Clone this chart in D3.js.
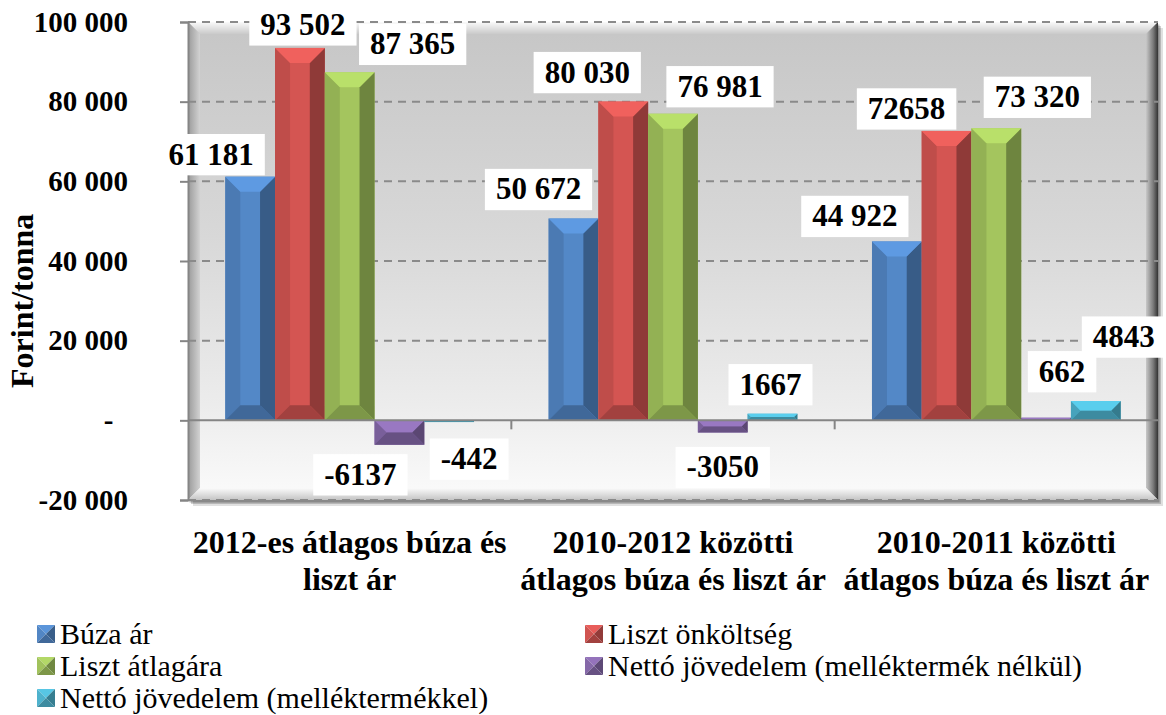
<!DOCTYPE html>
<html>
<head>
<meta charset="utf-8">
<script src="https://cdn.jsdelivr.net/npm/d3@7"></script>
<style>
  svg text { font-family: "Times New Roman", Tinos, "Liberation Serif", Times, serif !important; }
</style>
</head>
<body style="margin:0">
<div id="graf"></div>
<script>
// Datos del gráfico
const categorias = [
  ['2012-es átlagos búza és', 'liszt ár'],
  ['2010-2012 közötti', 'átlagos búza és liszt ár'],
  ['2010-2011 közötti', 'átlagos búza és liszt ár']
]
const series = ['Búza ár', 'Liszt önköltség', 'Liszt átlagára',
                'Nettó jövedelem (melléktermék nélkül)', 'Nettó jövedelem (melléktermékkel)']
const buzaAr        = [61181, 50672, 44922]
const lisztOnk      = [93502, 80030, 72658]
const lisztAtlag    = [87365, 76981, 73320]
const nettoNelkul   = [-6137, -3050, 662]
const nettoVel      = [-442, 1667, 4843]
const valores = [buzaAr, lisztOnk, lisztAtlag, nettoNelkul, nettoVel]
// etiquetas tal como aparecen en la imagen
const etiquetas = [
  ['61 181', '50 672', '44 922'],
  ['93 502', '80 030', '72658'],
  ['87 365', '76 981', '73 320'],
  ['-6137', '-3050', '662'],
  ['-442', '1667', '4843']
]
const yTicks = [-20000, 0, 20000, 40000, 60000, 80000, 100000]
const colores = ['#4F81BD', '#C9514E', '#9BBB59', '#8064A2', '#4BACC6']

// desplazamiento manual de etiquetas (px) respecto al extremo de la barra
const nudge = [
  [[-39, -12], [-35, -19], [-42, -15]],
  [[3, -13], [-36, -19], [-40, -12]],
  [[63, -18], [47, -17], [41, -21]],
  [[-39, 40], [0, 45], [16, -36]],
  [[20, 47], [-2, -19], [28, -54]]
]

const FUENTE = '"Times New Roman", Tinos, "Liberation Serif", Times, serif'

const ancho_total = 1166, alto_total = 715
const margins = {top: 22, left: 188, right: 8, bottom: 215}
const ancho = ancho_total - margins.left - margins.right
const alto = alto_total - margins.top - margins.bottom

const svg = d3.select('#graf').append('svg')
  .attr('width', ancho_total)
  .attr('height', alto_total)
  .attr('font-family', FUENTE)

const defs = svg.append('defs')

function gradiente(id, x1, y1, x2, y2, stops) {
  const gr = defs.append('linearGradient').attr('id', id)
    .attr('x1', x1).attr('y1', y1).attr('x2', x2).attr('y2', y2)
  stops.forEach(s => gr.append('stop').attr('offset', s[0]).attr('stop-color', s[1]))
}
gradiente('fondo', 0, 0, 0, 1, [[0, '#c6c6c6'], [0.45, '#d8d8d8'], [0.8, '#ececec'], [1, '#fbfbfb']])
gradiente('bevTop', 0, 0, 0, 1, [[0, '#fafafa'], [1, '#cacaca']])
gradiente('bevLeft', 0, 0, 1, 0, [[0, '#9a9a9a'], [1, '#d2d2d2']])
gradiente('bevRight', 0, 0, 1, 0, [[0, '#c8c8c8'], [0.6, '#7a7a7a'], [1, '#333']])
gradiente('bevBottom', 0, 0, 0, 1, [[0, '#fbfbfb'], [1, '#c4c4c4']])

const g = svg.append('g')
  .attr('transform', `translate(${margins.left}, ${margins.top})`)

// Escaladores
const x0 = d3.scaleBand().domain(d3.range(categorias.length)).range([0, ancho])
const x1 = d3.scaleBand().domain(d3.range(series.length))
  .range([0, x0.bandwidth()]).paddingInner(0).paddingOuter(0.75)
const y = d3.scaleLinear().domain([-20000, 100000]).range([alto, 0])

// Fondo del área de trazado con bisel y sombra simple
const bw = 12
;[[5, 0.12], [3, 0.18], [1.5, 0.25]].forEach(s => {
  g.append('rect').attr('x', s[0]).attr('y', s[0] + 1).attr('width', ancho).attr('height', alto)
    .attr('fill', '#000').attr('opacity', s[1])
})
g.append('rect').attr('width', ancho).attr('height', alto).attr('fill', 'url(#fondo)')
const poly = (pts, fill) => g.append('polygon').attr('points', pts.map(p => p.join(',')).join(' ')).attr('fill', fill)
poly([[0, 0], [ancho, 0], [ancho - bw, bw], [bw, bw]], 'url(#bevTop)')
poly([[0, 0], [bw, bw], [bw, alto - bw], [0, alto]], 'url(#bevLeft)')
poly([[ancho, 0], [ancho, alto], [ancho - bw, alto - bw], [ancho - bw, bw]], 'url(#bevRight)')
poly([[0, alto], [bw, alto - bw], [ancho - bw, alto - bw], [ancho, alto]], 'url(#bevBottom)')

// Líneas de cuadrícula
g.append('g')
  .selectAll('line')
  .data(yTicks.filter(d => d != 0))
  .join('line')
    .attr('x1', 0).attr('x2', ancho)
    .attr('y1', d => y(d)).attr('y2', d => y(d))
    .attr('stroke', '#8a8a8a').attr('stroke-width', 2)
    .attr('stroke-dasharray', '8,6')

// Barras con efecto de bisel
function barra(sel, x, w, y0, y1, color) {
  const top = Math.min(y0, y1), bot = Math.max(y0, y1)
  const h = bot - top
  const b = Math.min(15, h / 2, w / 2)
  const c = d3.rgb(color)
  const P = (pts, f) => sel.append('polygon').attr('points', pts.map(p => p.join(',')).join(' ')).attr('fill', f)
  sel.append('rect').attr('x', x).attr('y', top).attr('width', w).attr('height', h).attr('fill', c.brighter(0.15))
  P([[x, top], [x + b, top + b], [x + b, bot - b], [x, bot]], c.darker(0.15))
  P([[x + w, top], [x + w, bot], [x + w - b, bot - b], [x + w - b, top + b]], c.darker(0.95))
  P([[x, top], [x + w, top], [x + w - b, top + b], [x + b, top + b]], c.brighter(0.5))
  P([[x, bot], [x + b, bot - b], [x + w - b, bot - b], [x + w, bot]], c.darker(0.6))
}

const grupos = g.append('g').selectAll('g')
  .data(categorias)
  .join('g')
    .attr('transform', (d, i) => `translate(${x0(i)}, 0)`)

grupos.each(function(d, ci) {
  const sel = d3.select(this)
  valores.forEach((vals, si) => {
    barra(sel.append('g'), x1(si), x1.bandwidth(), y(0), y(vals[ci]), colores[si])
  })
})

// Línea del cero y marcas de categoría
g.append('line').attr('x1', 0).attr('x2', ancho).attr('y1', y(0)).attr('y2', y(0))
  .attr('stroke', '#858585').attr('stroke-width', 2)
g.append('g').selectAll('line')
  .data(d3.range(1, categorias.length))
  .join('line')
    .attr('x1', d => x0(d)).attr('x2', d => x0(d))
    .attr('y1', y(0)).attr('y2', y(0) + 9)
    .attr('stroke', '#858585').attr('stroke-width', 2)

// Eje Y
const ejeY = d3.axisLeft(y)
  .tickValues(yTicks)
  .tickSize(8)
  .tickPadding(52)
  .tickFormat(d => d == 0 ? '-\u00a0\u00a0' : d3.format(',d')(d).replace(/,/g, ' ').replace('−', '-'))
const ejeYG = g.append('g').call(ejeY)
ejeYG.attr('font-family', FUENTE).attr('font-size', null)
ejeYG.select('.domain').attr('stroke', '#858585').attr('stroke-width', 2)
ejeYG.selectAll('.tick line').attr('stroke', '#858585').attr('stroke-width', 2)
ejeYG.selectAll('.tick text')
  .style('font-family', FUENTE)
  .attr('font-weight', 'bold')
  .attr('font-size', 29).attr('fill', '#000')

// Título del eje
svg.append('text')
  .attr('transform', `translate(33, ${margins.top + y(30000)}) rotate(-90)`)
  .attr('text-anchor', 'middle')
  .style('font-family', FUENTE)
  .attr('font-weight', 'bold').attr('font-size', 32)
  .text('Forint/tonna')

// Etiquetas de categoría
categorias.forEach((lineas, i) => {
  lineas.forEach((l, j) => {
    svg.append('text')
      .attr('x', margins.left + x0(i) + x0.bandwidth() / 2)
      .attr('y', 553 + j * 37)
      .attr('text-anchor', 'middle')
      .style('font-family', FUENTE)
      .attr('font-weight', 'bold').attr('font-size', 32)
      .text(l)
  })
})

// Etiquetas de datos con fondo blanco (ancho estimado sin getBBox)
const anchoTexto = (s, fs) => d3.sum(s.split(''), ch => ch == ' ' ? 0.25 : ch == '-' ? 0.333 : 0.5) * fs
const capaEtiq = g.append('g')
valores.forEach((vals, si) => {
  vals.forEach((v, ci) => {
    const cx = x0(ci) + x1(si) + x1.bandwidth() / 2 + nudge[si][ci][0]
    const cy = y(v) + nudge[si][ci][1]
    const fs = 31
    const w = anchoTexto(etiquetas[si][ci], fs)
    capaEtiq.append('rect')
      .attr('x', cx - w / 2 - 11).attr('y', cy - fs * 0.891 - 3)
      .attr('width', w + 22).attr('height', fs * 1.107 + 7)
      .attr('fill', '#fff')
    capaEtiq.append('text')
      .attr('x', cx).attr('y', cy)
      .attr('text-anchor', 'middle')
      .style('font-family', FUENTE)
      .attr('font-weight', 'bold').attr('font-size', fs)
      .text(etiquetas[si][ci])
  })
})

// Leyenda
const legX = [37, 585]
const legend = svg.append('g')
series.forEach((s, i) => {
  const lx = legX[i % 2], ly = 644 + Math.floor(i / 2) * 32
  const sq = 18, c = d3.rgb(colores[i])
  const sx = lx, sy = ly - 19
  const P = (pts, f) => legend.append('polygon').attr('points', pts.map(p => p.join(',')).join(' ')).attr('fill', f)
  P([[sx, sy], [sx + sq, sy], [sx + sq / 2, sy + sq / 2]], c.brighter(0.4))
  P([[sx, sy], [sx + sq / 2, sy + sq / 2], [sx, sy + sq]], c.brighter(0.1))
  P([[sx + sq, sy], [sx + sq, sy + sq], [sx + sq / 2, sy + sq / 2]], c.darker(0.9))
  P([[sx, sy + sq], [sx + sq / 2, sy + sq / 2], [sx + sq, sy + sq]], c.darker(0.6))
  legend.append('text')
    .attr('x', lx + 23).attr('y', ly)
    .style('font-family', FUENTE)
    .attr('font-size', 30)
    .text(s)
})
</script>
</body>
</html>
